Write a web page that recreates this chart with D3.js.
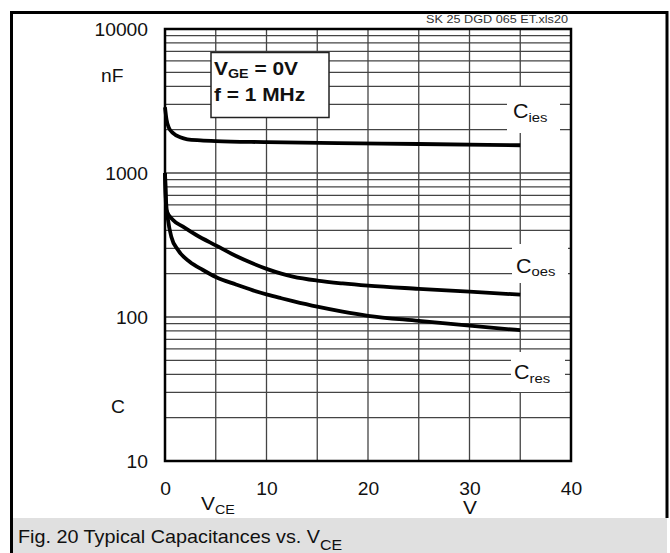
<!DOCTYPE html>
<html>
<head>
<meta charset="utf-8">
<script src="https://cdn.jsdelivr.net/npm/d3@7"></script>
<style>
  body { margin: 0; background: #fff; }
  svg { display: block; }
  text { font-family: Arial, "Liberation Sans", Helvetica, sans-serif; }
</style>
</head>
<body>
<svg id="chart" width="670" height="553"></svg>
<script>
// axis ticks
const xTicks = [0, 10, 20, 30, 40];
const xGrid = [0, 5, 10, 15, 20, 25, 30, 35, 40];
const yTicks = [10, 100, 1000, 10000];

// curves (V_CE in V, C in nF)
const ciesV = [0, 0.15, 0.4, 0.8, 1.5, 2.2, 3.5, 5, 10, 17, 25, 35];
const ciesC = [2860, 2350, 2050, 1890, 1770, 1714, 1685, 1665, 1638, 1610, 1590, 1558];

const coesV = [0, 0.06, 0.13, 0.79, 1.77, 3.08, 5.05, 7.0, 8.67, 10.08, 11.46, 12.6, 15, 17.5, 20, 25, 30, 35];
const coesC = [1000, 700, 553, 472, 424, 371, 313, 265, 235, 215, 200, 191, 179, 171, 165, 157, 150, 143];

const cresV = [0, 0.1, 0.3, 0.62, 1.28, 2.43, 3.74, 5.05, 7.0, 8.67, 10.08, 11.46, 12.6, 15, 17.5, 20, 25, 30, 35];
const cresC = [1000, 640, 472, 361, 292, 242, 212, 189, 168, 153, 143, 135, 129, 118, 109, 102, 94, 87, 81];

const SX = 1.1; // the scan is stretched horizontally

const svg = d3.select('#chart');

const x = d3.scaleLinear().domain([0, 40]).range([165, 571]);
const y = d3.scaleLog().domain([10, 10000]).range([461, 29]);

// helper for stretched text with optional subscripts
function label(px, py, size, parts, opts = {}) {
  const g = svg.append('g').attr('transform', `translate(${px},${py}) scale(${SX},1)`);
  const t = g.append('text')
    .attr('font-size', size)
    .attr('text-anchor', opts.anchor || 'start')
    .attr('font-weight', opts.bold ? 'bold' : null)
    .attr('fill', opts.fill || '#111');
  let shift = 0;
  parts.forEach(p => {
    const s = t.append('tspan').text(p.t);
    const target = p.sub || 0;
    s.attr('dy', target - shift);
    shift = target;
    if (p.size) s.attr('font-size', p.size);
  });
  return t;
}

// outer frame + caption strip
svg.append('rect').attr('x', 13).attr('y', 518).attr('width', 654).attr('height', 35).attr('fill', '#e0e0e0');
svg.append('path')
  .attr('d', 'M11.5,553 L11.5,12.5 L667,12.5 L667,518')
  .attr('fill', 'none').attr('stroke', '#000').attr('stroke-width', 3);

// grid
const grid = svg.append('g').attr('stroke', '#444').attr('stroke-width', 1.3);
grid.selectAll('.hg').data(y.ticks()).join('line')
  .attr('x1', x(0)).attr('x2', x(40))
  .attr('y1', d => y(d)).attr('y2', d => y(d));
grid.selectAll('.vg').data(xGrid).join('line')
  .attr('x1', d => x(d)).attr('x2', d => x(d))
  .attr('y1', y(10)).attr('y2', y(10000));

// white boxes behind curve labels
const boxes = [
  { x0: 507, x1: 560, y0: 87, y1: 133 },
  { x0: 512, x1: 568, y0: 244, y1: 283 },
  { x0: 511, x1: 565, y0: 352, y1: 392 }
];
svg.selectAll('.lb').data(boxes).join('rect')
  .attr('x', d => d.x0).attr('y', d => d.y0)
  .attr('width', d => d.x1 - d.x0).attr('height', d => d.y1 - d.y0)
  .attr('fill', '#fff');

// curves
const line = d3.line().x(d => x(d[0])).y(d => y(d[1])).curve(d3.curveMonotoneX);
const series = [d3.zip(ciesV, ciesC), d3.zip(coesV, coesC), d3.zip(cresV, cresC)];
svg.selectAll('.curve').data(series).join('path')
  .attr('d', line)
  .attr('fill', 'none').attr('stroke', '#000').attr('stroke-width', 3.8)
  .attr('stroke-linejoin', 'round');

// plot frame
svg.append('rect')
  .attr('x', x(0)).attr('y', y(10000))
  .attr('width', x(40) - x(0)).attr('height', y(10) - y(10000))
  .attr('fill', 'none').attr('stroke', '#000').attr('stroke-width', 2.5);

// conditions box
svg.append('rect').attr('x', 211).attr('y', 52.5).attr('width', 118).attr('height', 65)
  .attr('fill', '#fff').attr('stroke', '#222').attr('stroke-width', 1.5);
label(214, 74.5, 19, [{ t: 'V' }, { t: 'GE', size: 13, sub: 3 }, { t: ' = 0V' }], { bold: true });
label(214, 101, 19, [{ t: 'f = 1 MHz' }], { bold: true });

// axes
const yAxis = svg.append('g')
  .attr('transform', `translate(${x(0)},0)`)
  .call(d3.axisLeft(y).tickValues(yTicks).tickFormat(d3.format('d')).tickSize(0).tickPadding(0));
yAxis.select('.domain').remove();
yAxis.selectAll('text')
  .attr('x', null).attr('dy', '0.36em')
  .attr('transform', `translate(-17,0) scale(${SX},1)`)
  .attr('font-size', 17.5).attr('fill', '#111')
  .style('font-family', 'Arial, "Liberation Sans", sans-serif');

const xAxis = svg.append('g')
  .attr('transform', `translate(0,${y(10)})`)
  .call(d3.axisBottom(x).tickValues(xTicks).tickSize(0).tickPadding(0));
xAxis.select('.domain').remove();
xAxis.selectAll('text')
  .attr('y', null).attr('dy', 0)
  .attr('transform', `translate(0,33.5) scale(${SX},1)`)
  .attr('font-size', 17.5).attr('fill', '#111')
  .style('font-family', 'Arial, "Liberation Sans", sans-serif');

// axis titles
label(101, 82, 17.5, [{ t: 'nF' }]);
label(111, 413, 17.5, [{ t: 'C' }]);
label(201, 510, 19, [{ t: 'V' }, { t: 'CE', size: 13, sub: 4 }]);
label(470, 514, 19, [{ t: 'V' }], { anchor: 'middle' });

// curve labels
label(513, 118, 19.5, [{ t: 'C' }, { t: 'ies', size: 13.5, sub: 4 }]);
label(516, 273, 19.5, [{ t: 'C' }, { t: 'oes', size: 13.5, sub: 3 }]);
label(514, 379, 19.5, [{ t: 'C' }, { t: 'res', size: 13.5, sub: 4 }]);

// file reference
label(568, 23, 11.5, [{ t: 'SK 25 DGD 065 ET.xls20' }], { anchor: 'end', fill: '#333' });

// caption
label(18, 543, 18, [{ t: 'Fig. 20 Typical Capacitances vs. V' }, { t: 'CE', size: 14.5, sub: 7 }]);
</script>
</body>
</html>
